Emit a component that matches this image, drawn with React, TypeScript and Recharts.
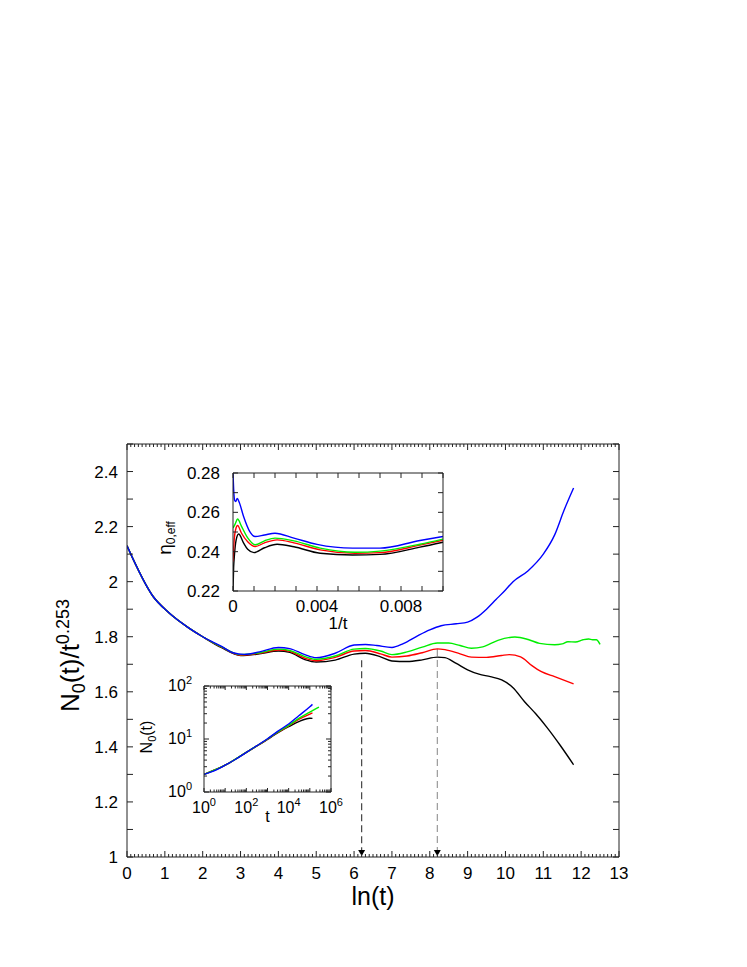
import React from 'react';
import { LineChart, Line, XAxis, YAxis, ReferenceLine, ReferenceDot, Label } from 'recharts';

const FONT = '"Liberation Sans", Arial, Helvetica, sans-serif';
const AXIS = '#222';
const BLACK = '#000000';
const RED = '#ff0000';
const GREEN = '#00ee00';
const BLUE = '#0000ff';

// main panel: N0(t)/t^0.253 against ln(t)
const lnTBlack = [0, 0.69, 1.1, 1.6, 2.0, 2.5, 3.0, 3.5, 4.0, 4.3, 4.7, 5.0, 5.5, 6.0, 6.3, 6.7, 7.0, 7.4, 7.8, 8.2, 8.4, 8.7, 9.0, 9.3, 9.6, 9.9, 10.2, 10.5, 10.8, 11.1, 11.45, 11.8];
const ratioBlack = [2.13, 1.946, 1.888, 1.835, 1.8, 1.76, 1.732, 1.738, 1.748, 1.743, 1.717, 1.708, 1.715, 1.737, 1.74, 1.727, 1.712, 1.71, 1.716, 1.726, 1.724, 1.703, 1.68, 1.664, 1.655, 1.643, 1.615, 1.565, 1.52, 1.47, 1.405, 1.335];

const lnTRed = [0, 0.69, 1.1, 1.6, 2.0, 2.5, 3.0, 3.5, 4.0, 4.3, 4.7, 5.0, 5.5, 6.0, 6.3, 6.7, 7.0, 7.4, 7.8, 8.2, 8.4, 8.8, 9.1, 9.5, 9.9, 10.1, 10.4, 10.7, 10.95, 11.3, 11.8];
const ratioRed = [2.13, 1.946, 1.888, 1.835, 1.8, 1.762, 1.733, 1.74, 1.752, 1.747, 1.722, 1.713, 1.725, 1.748, 1.75, 1.738, 1.726, 1.73, 1.742, 1.756, 1.753, 1.738, 1.726, 1.725, 1.732, 1.735, 1.727, 1.695, 1.673, 1.655, 1.629];

const lnTGreen = [0, 0.69, 1.1, 1.6, 2.0, 2.5, 3.0, 3.5, 4.0, 4.3, 4.7, 5.0, 5.5, 6.0, 6.3, 6.7, 7.0, 7.4, 7.8, 8.2, 8.5, 8.8, 9.1, 9.4, 9.8, 10.25, 10.6, 10.9, 11.3, 11.5, 11.65, 11.85, 12.05, 12.2, 12.3, 12.4, 12.5];
const ratioGreen = [2.13, 1.946, 1.888, 1.835, 1.8, 1.763, 1.735, 1.742, 1.755, 1.75, 1.728, 1.718, 1.73, 1.755, 1.757, 1.748, 1.735, 1.745, 1.762, 1.777, 1.777, 1.768, 1.758, 1.763, 1.787, 1.799, 1.79, 1.776, 1.771, 1.774, 1.782, 1.781, 1.789, 1.792, 1.789, 1.789, 1.772];

const lnTBlue = [0, 0.69, 1.1, 1.6, 2.0, 2.5, 2.8, 3.1, 3.5, 4.0, 4.3, 4.7, 5.0, 5.5, 6.0, 6.3, 6.6, 7.0, 7.3, 7.7, 8.0, 8.3, 8.7, 9.0, 9.25, 9.5, 9.75, 10.0, 10.2, 10.6, 11.0, 11.3, 11.55, 11.8];
const ratioBlue = [2.13, 1.946, 1.888, 1.835, 1.8, 1.765, 1.742, 1.736, 1.745, 1.761, 1.757, 1.735, 1.724, 1.74, 1.77, 1.772, 1.768, 1.761, 1.775, 1.805, 1.825, 1.84, 1.847, 1.853, 1.871, 1.9, 1.935, 1.97, 2.0, 2.04, 2.1, 2.17, 2.26, 2.34];

// dashed markers
const markerLnT = [6.2, 8.2];
const markerTop = [1.715, 1.755];
const markerColor = ['#444', '#999'];

// upper inset: eta_0,eff against 1/t
const invTBlack = [0, 0.00003, 0.00006, 0.00015, 0.00027, 0.0005, 0.0007, 0.001, 0.0015, 0.0021, 0.0029, 0.00415, 0.0057, 0.007, 0.0089, 0.01];
const etaBlack = [0.22, 0.232, 0.237, 0.246, 0.249, 0.2445, 0.2412, 0.2395, 0.242, 0.2438, 0.2425, 0.2392, 0.2383, 0.2386, 0.2423, 0.2448];
const invTRed = [0, 0.00005, 0.00012, 0.00022, 0.0004, 0.0007, 0.00106, 0.0015, 0.0021, 0.0029, 0.00415, 0.0058, 0.007, 0.0089, 0.01];
const etaRed = [0.235, 0.245, 0.251, 0.2533, 0.2495, 0.245, 0.2426, 0.2445, 0.246, 0.2445, 0.2409, 0.2392, 0.2395, 0.2433, 0.2458];
const invTGreen = [0, 0.0001, 0.00022, 0.0004, 0.0007, 0.00106, 0.0015, 0.002, 0.0029, 0.00415, 0.0058, 0.007, 0.0089, 0.01];
const etaGreen = [0.252, 0.254, 0.2566, 0.253, 0.247, 0.2435, 0.2455, 0.2469, 0.2455, 0.2418, 0.2397, 0.2403, 0.2438, 0.2464];
const invTBlue = [0, 0.00003, 0.00008, 0.00013, 0.0002, 0.0003, 0.0005, 0.0008, 0.00105, 0.0015, 0.002, 0.0029, 0.004, 0.0057, 0.007, 0.0089, 0.01];
const etaBlue = [0.28, 0.272, 0.266, 0.2655, 0.267, 0.265, 0.258, 0.2502, 0.2477, 0.2485, 0.2494, 0.2469, 0.2437, 0.2418, 0.2418, 0.2457, 0.2477];

// lower inset: N0(t) against t, log-log
const tBlack = [1, 10, 100, 1000, 3000, 10000, 30000, 100000, 133000];
const nBlack = [2.15, 3.2, 5.6, 9.8, 13.1, 17.1, 21.3, 24.6, 24.5];
const tRed = [1, 10, 100, 1000, 3000, 10000, 30000, 100000, 133000];
const nRed = [2.15, 3.2, 5.6, 9.9, 13.3, 17.7, 23.4, 29.5, 31];
const tGreen = [1, 10, 100, 1000, 3000, 10000, 30000, 100000, 270000];
const nGreen = [2.15, 3.2, 5.6, 10.0, 13.5, 18.1, 24.4, 32.0, 40];
const tBlue = [1, 3, 10, 30, 100, 300, 1000, 3000, 10000, 30000, 100000, 133000];
const nBlue = [2.15, 2.5, 3.2, 4.1, 5.6, 7.4, 10.1, 13.9, 19.2, 27.4, 40.5, 45];

// tick labels
const mainXLabels = [0, 1, 2, 3, 4, 5, 6, 7, 8, 9, 10, 11, 12, 13];
const mainYLabels = [1, 1.2, 1.4, 1.6, 1.8, 2, 2.2, 2.4];
const etaXLabels = [0, 0.004, 0.008];
const etaYLabels = [0.22, 0.24, 0.26, 0.28];
const logXLabels = [1, 100, 10000, 1000000];
const logYLabels = [1, 10, 100];

const zip = (xs: number[], ys: number[]) => xs.map((x, i) => ({ x, y: ys[i] }));
const has = (list: number[], v: number) => list.some((m) => Math.abs(m - v) <= 1e-9 * Math.max(1, Math.abs(v)));
const steps = (from: number, n: number, step: number) => Array.from({ length: n }, (_, i) => +(from + i * step).toFixed(6));

const mainXTicks = steps(0, 131, 0.1);
const mainYTicks = steps(1, 16, 0.1);
const etaXTicks = steps(0, 11, 0.001);
const etaYTicks = steps(0.22, 7, 0.01);
const logTicks = (n: number) => {
  const out: number[] = [];
  for (let k = 0; k <= n; k++) {
    const d = Math.pow(10, k);
    out.push(d);
    if (k < n) for (let m = 2; m <= 9; m++) out.push(d * m);
  }
  return out;
};
const logXTicks = logTicks(6);
const logYTicks = logTicks(2);
const decades = (list: number[]) => list.filter((v) => has([1, 10, 100, 1000, 10000, 100000, 1000000], v));

type Side = 'bottom' | 'top' | 'left' | 'right';
type LabelFn = (v: number, x: number, y: number) => React.ReactNode;

function makeTick(side: Side, majors: number[], majorLen: number, minorLen: number, label?: LabelFn, labelAt: number[] = []) {
  return (props: any) => {
    const { x, y, payload } = props;
    const v = payload.value as number;
    const len = has(majors, v) ? majorLen : minorLen;
    let line;
    if (side === 'bottom') line = <line x1={x} x2={x} y1={y} y2={y - len} />;
    else if (side === 'top') line = <line x1={x} x2={x} y1={y} y2={y + len} />;
    else if (side === 'left') line = <line x1={x} x2={x + len} y1={y} y2={y} />;
    else line = <line x1={x} x2={x - len} y1={y} y2={y} />;
    return (
      <g stroke={AXIS} strokeWidth={1}>
        {line}
        {label && has(labelAt, v) ? label(v, x, y) : null}
      </g>
    );
  };
}

const txt = { fontFamily: FONT, fill: '#000', stroke: 'none' } as const;

const mainXLabel: LabelFn = (v, x, y) => (
  <text x={x} y={y + 22} textAnchor="middle" fontSize={17} {...txt}>{v}</text>
);
const mainYLabel: LabelFn = (v, x, y) => (
  <text x={x - 9} y={y + 6} textAnchor="end" fontSize={17} {...txt}>{v}</text>
);
const etaXLabel: LabelFn = (v, x, y) => (
  <text x={x} y={y + 21} textAnchor="middle" fontSize={17} {...txt}>{v === 0 ? '0' : v.toFixed(3)}</text>
);
const etaYLabel: LabelFn = (v, x, y) => (
  <text x={x - 13} y={y + 6} textAnchor="end" fontSize={17} {...txt}>{v.toFixed(2)}</text>
);
const pow10 = (v: number) => Math.round(Math.log10(v));
const logXLabel: LabelFn = (v, x, y) => (
  <text x={x} y={y + 21} textAnchor="middle" fontSize={16} {...txt}>
    10<tspan dy={-7} fontSize={11}>{pow10(v)}</tspan>
  </text>
);
const logYLabel: LabelFn = (v, x, y) => (
  <text x={x - 12} y={y + 5} textAnchor="end" fontSize={16} {...txt}>
    10<tspan dy={-7} fontSize={11}>{pow10(v)}</tspan>
  </text>
);

const Triangle = (props: any) => {
  const { cx, cy } = props;
  return <path d={`M${cx - 3.5},${cy - 7} L${cx + 3.5},${cy - 7} L${cx},${cy - 1} Z`} fill="#000" />;
};

const lineProps = { type: 'monotone' as const, dataKey: 'y', dot: false, strokeWidth: 1.4, isAnimationActive: false };
// every axis gets a 1px band; margins below are the plot edges minus that band
const axisCommon = { type: 'number' as const, interval: 0 as const, tickSize: 0, tickMargin: 0, tickLine: false, stroke: AXIS, allowDataOverflow: true };

function MainChart() {
  return (
    <LineChart width={747} height={967} margin={{ top: 443, right: 127, bottom: 109, left: 126 }}>
      <XAxis xAxisId="b" {...axisCommon} dataKey="x" domain={[0, 13]} ticks={mainXTicks} height={1}
        tick={makeTick('bottom', mainXLabels, 6, 3, mainXLabel, mainXLabels)}>
        <Label content={(p: any) => (
          <text x={p.viewBox.x + p.viewBox.width / 2} y={p.viewBox.y + 48} textAnchor="middle" fontSize={25} fontFamily={FONT}>ln(t)</text>
        )} />
      </XAxis>
      <XAxis xAxisId="t" orientation="top" {...axisCommon} dataKey="x" domain={[0, 13]} ticks={mainXTicks} height={1}
        tick={makeTick('top', mainXLabels, 6, 3)} />
      <YAxis yAxisId="l" {...axisCommon} domain={[1, 2.5]} ticks={mainYTicks} width={1}
        tick={makeTick('left', mainYTicks, 6, 6, mainYLabel, mainYLabels)}>
        <Label content={(p: any) => {
          const cx = p.viewBox.x + p.viewBox.width - 48;
          const cy = p.viewBox.y + p.viewBox.height / 2 + 5;
          return (
            <text transform={`translate(${cx},${cy}) rotate(-90)`} textAnchor="middle" fontSize={26} fontFamily={FONT}>
              N<tspan dy={6} fontSize={18}>0</tspan><tspan dy={-6}>(t)/t</tspan><tspan dy={-10} fontSize={18}>0.253</tspan>
            </text>
          );
        }} />
      </YAxis>
      <YAxis yAxisId="r" orientation="right" {...axisCommon} domain={[1, 2.5]} ticks={mainYTicks} width={1}
        tick={makeTick('right', mainYTicks, 6, 6)} />

      {markerLnT.map((m, i) => (
        <ReferenceLine key={'d' + i} xAxisId="b" yAxisId="l" segment={[{ x: m, y: markerTop[i] }, { x: m, y: 1 }]}
          stroke={markerColor[i]} strokeWidth={1.2} strokeDasharray="7 4" />
      ))}
      {markerLnT.map((m, i) => (
        <ReferenceDot key={'t' + i} xAxisId="b" yAxisId="l" x={m} y={1} r={4} shape={Triangle} />
      ))}

      <Line {...lineProps} xAxisId="b" yAxisId="l" data={zip(lnTBlack, ratioBlack)} stroke={BLACK} />
      <Line {...lineProps} xAxisId="b" yAxisId="l" data={zip(lnTRed, ratioRed)} stroke={RED} />
      <Line {...lineProps} xAxisId="b" yAxisId="l" data={zip(lnTGreen, ratioGreen)} stroke={GREEN} />
      <Line {...lineProps} xAxisId="b" yAxisId="l" data={zip(lnTBlue, ratioBlue)} stroke={BLUE} />
    </LineChart>
  );
}

function EtaInset() {
  return (
    <LineChart width={320} height={190} margin={{ top: 17, right: 16, bottom: 53, left: 92 }}>
      <XAxis xAxisId="b" {...axisCommon} dataKey="x" domain={[0, 0.01]} ticks={etaXTicks} height={1}
        tick={makeTick('bottom', etaXTicks, 5, 5, etaXLabel, etaXLabels)}>
        <Label content={(p: any) => (
          <text x={p.viewBox.x + p.viewBox.width / 2} y={p.viewBox.y + 38} textAnchor="middle" fontSize={17} fontFamily={FONT}>1/t</text>
        )} />
      </XAxis>
      <XAxis xAxisId="t" orientation="top" {...axisCommon} dataKey="x" domain={[0, 0.01]} ticks={etaXTicks} height={1}
        tick={makeTick('top', etaXTicks, 5, 5)} />
      <YAxis yAxisId="l" {...axisCommon} domain={[0.22, 0.28]} ticks={etaYTicks} width={1}
        tick={makeTick('left', etaYTicks, 5, 5, etaYLabel, etaYLabels)}>
        <Label content={(p: any) => {
          const cx = p.viewBox.x + p.viewBox.width - 62;
          const cy = p.viewBox.y + p.viewBox.height / 2 + 6;
          return (
            <text transform={`translate(${cx},${cy}) rotate(-90)`} textAnchor="middle" fontSize={19} fontFamily={FONT}>
              η<tspan dy={4} fontSize={12}>0,eff</tspan>
            </text>
          );
        }} />
      </YAxis>
      <YAxis yAxisId="r" orientation="right" {...axisCommon} domain={[0.22, 0.28]} ticks={etaYTicks} width={1}
        tick={makeTick('right', etaYTicks, 5, 5)} />
      <Line {...lineProps} xAxisId="b" yAxisId="l" data={zip(invTBlack, etaBlack)} stroke={BLACK} />
      <Line {...lineProps} xAxisId="b" yAxisId="l" data={zip(invTRed, etaRed)} stroke={RED} />
      <Line {...lineProps} xAxisId="b" yAxisId="l" data={zip(invTGreen, etaGreen)} stroke={GREEN} />
      <Line {...lineProps} xAxisId="b" yAxisId="l" data={zip(invTBlue, etaBlue)} stroke={BLUE} />
    </LineChart>
  );
}

function LogInset() {
  const xMajors = decades(logXTicks);
  const yMajors = decades(logYTicks);
  return (
    <LineChart width={230} height={170} margin={{ top: 15, right: 18, bottom: 47, left: 83 }}>
      <XAxis xAxisId="b" {...axisCommon} scale="log" dataKey="x" domain={[1, 1000000]} ticks={logXTicks} height={1}
        tick={makeTick('bottom', xMajors, 4, 2.5, logXLabel, logXLabels)}>
        <Label content={(p: any) => (
          <text x={p.viewBox.x + p.viewBox.width / 2} y={p.viewBox.y + 30} textAnchor="middle" fontSize={16} fontFamily={FONT}>t</text>
        )} />
      </XAxis>
      <XAxis xAxisId="t" orientation="top" {...axisCommon} scale="log" dataKey="x" domain={[1, 1000000]} ticks={logXTicks} height={1}
        tick={makeTick('top', xMajors, 4, 2.5)} />
      <YAxis yAxisId="l" {...axisCommon} scale="log" domain={[1, 100]} ticks={logYTicks} width={1}
        tick={makeTick('left', yMajors, 5, 3, logYLabel, logYLabels)}>
        <Label content={(p: any) => {
          const cx = p.viewBox.x + p.viewBox.width - 52;
          const cy = p.viewBox.y + p.viewBox.height / 2 - 2;
          return (
            <text transform={`translate(${cx},${cy}) rotate(-90)`} textAnchor="middle" fontSize={16} fontFamily={FONT}>
              N<tspan dy={4} fontSize={11}>0</tspan><tspan dy={-4}>(t)</tspan>
            </text>
          );
        }} />
      </YAxis>
      <YAxis yAxisId="r" orientation="right" {...axisCommon} scale="log" domain={[1, 100]} ticks={logYTicks} width={1}
        tick={makeTick('right', yMajors, 5, 3)} />
      <Line {...lineProps} xAxisId="b" yAxisId="l" data={zip(tBlack, nBlack)} stroke={BLACK} />
      <Line {...lineProps} xAxisId="b" yAxisId="l" data={zip(tRed, nRed)} stroke={RED} />
      <Line {...lineProps} xAxisId="b" yAxisId="l" data={zip(tGreen, nGreen)} stroke={GREEN} />
      <Line {...lineProps} xAxisId="b" yAxisId="l" data={zip(tBlue, nBlue)} stroke={BLUE} />
    </LineChart>
  );
}

export default function App() {
  return (
    <div style={{ position: 'absolute', left: 0, top: 0, width: 747, height: 967, background: '#fff', fontFamily: FONT }}>
      <div style={{ position: 'absolute', left: 0, top: 0 }}>
        <MainChart />
      </div>
      <div style={{ position: 'absolute', left: 140, top: 455 }}>
        <EtaInset />
      </div>
      <div style={{ position: 'absolute', left: 120, top: 670 }}>
        <LogInset />
      </div>
    </div>
  );
}
